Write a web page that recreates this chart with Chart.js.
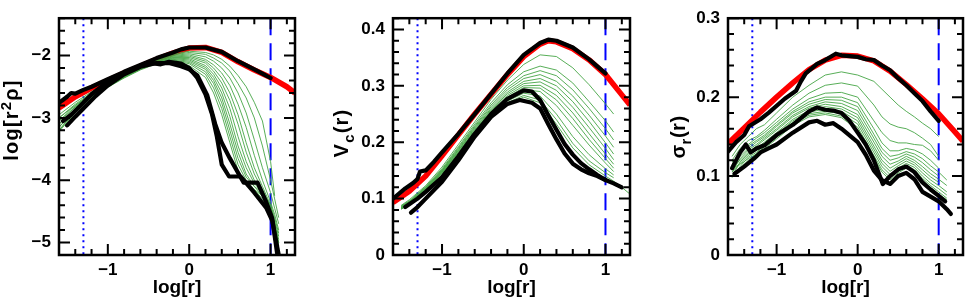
<!DOCTYPE html>
<html><head><meta charset="utf-8">
<script src="https://cdn.jsdelivr.net/npm/chart.js@4.4.0/dist/chart.umd.min.js"></script>
<style>
html,body{margin:0;padding:0;background:#fff;width:965px;height:301px;overflow:hidden}
canvas{position:absolute;top:0}
</style></head><body>
<canvas id="c1" style="left:0px" width="300" height="301"></canvas>
<canvas id="c2" style="left:318px" width="317" height="301"></canvas>
<canvas id="c3" style="left:638px" width="327" height="301"></canvas>
<script>
// ---------- shared axis data ----------
const X_MIN = -1.6, X_MAX = 1.3;
const xTickVals = [-1, 0, 1];
const xTickLabels = ['\u22121', '0', '1'];
const vlineX = [-1.3, 1.0]; // dotted, dashed

// ---------- panel 1 : log[r^2 rho] ----------
const p1YRange = [-5.2, -1.4];
const p1YTicks = [-5, -4, -3, -2];
const p1YLabels = ['\u22125', '\u22124', '\u22123', '\u22122'];
const p1RedX = [-1.6,-1.4,-1.2,-1.0,-0.8,-0.6,-0.4,-0.2,0.0,0.2,0.4,0.6,0.8,1.0,1.2,1.3];
const p1RedY = [-2.84,-2.66,-2.52,-2.40,-2.28,-2.17,-2.06,-1.96,-1.88,-1.87,-1.95,-2.10,-2.23,-2.35,-2.50,-2.60];
const p1TopX = [-1.6,-1.5,-1.45,-1.4,-1.3,-1.2,-1.0,-0.8,-0.6,-0.4,-0.2,-0.1,0.0,0.2,0.4,0.6,0.8,0.9,1.0];
const p1TopY = [-2.76,-2.66,-2.60,-2.61,-2.55,-2.50,-2.38,-2.26,-2.15,-2.04,-1.95,-1.90,-1.87,-1.87,-1.94,-2.09,-2.22,-2.29,-2.36];
const p1AX = [-1.55,-1.45,-1.35,-1.2,-1.0,-0.8,-0.6,-0.45,-0.35,-0.25,-0.1,0.0,0.1,0.2,0.28,0.34,0.4,0.49,0.63,0.8,0.95,1.02,1.1];
const p1AY = [-3.05,-2.95,-2.82,-2.62,-2.42,-2.28,-2.16,-2.12,-2.14,-2.10,-2.13,-2.20,-2.36,-2.62,-2.94,-3.30,-3.75,-3.94,-3.94,-4.20,-4.45,-4.65,-5.20];
const p1BX = [-1.5,-1.4,-1.3,-1.15,-1.0,-0.8,-0.6,-0.4,-0.25,-0.1,0.0,0.1,0.22,0.32,0.4,0.5,0.67,0.84,0.94,1.02,1.08];
const p1BY = [-3.12,-2.98,-2.85,-2.65,-2.48,-2.30,-2.18,-2.12,-2.12,-2.17,-2.22,-2.32,-2.63,-3.10,-3.40,-3.65,-4.04,-4.04,-4.33,-4.61,-5.17];
const p1GX = [-1.6,-1.4,-1.2,-1.0,-0.8,-0.6,-0.4,-0.2,0.0,0.2,0.3,0.4,0.5,0.6,0.7,0.8,0.9,1.0,1.05,1.1];
const p1Greens = [
 [-2.95,-2.75,-2.58,-2.44,-2.30,-2.17,-2.06,-1.98,-1.93,-1.95,-1.99,-2.06,-2.17,-2.32,-2.50,-2.75,-3.05,-3.70,-4.25,null],
 [-3.00,-2.78,-2.60,-2.45,-2.31,-2.18,-2.07,-1.99,-1.95,-1.98,-2.04,-2.12,-2.25,-2.45,-2.68,-3.00,-3.45,-4.00,-4.30,-4.60],
 [-3.05,-2.80,-2.61,-2.46,-2.31,-2.18,-2.07,-2.00,-1.97,-2.02,-2.09,-2.20,-2.36,-2.60,-2.92,-3.35,-3.80,-4.20,-4.45,-4.70],
 [-3.10,-2.82,-2.62,-2.46,-2.32,-2.19,-2.08,-2.01,-1.99,-2.06,-2.15,-2.28,-2.48,-2.78,-3.15,-3.60,-4.00,-4.35,-4.55,-4.80],
 [-3.00,-2.80,-2.62,-2.47,-2.32,-2.19,-2.09,-2.02,-2.01,-2.09,-2.20,-2.36,-2.60,-2.95,-3.40,-3.80,-4.10,-4.40,-4.60,-4.85],
 [-3.15,-2.85,-2.63,-2.47,-2.33,-2.20,-2.10,-2.03,-2.03,-2.12,-2.25,-2.44,-2.72,-3.10,-3.55,-3.90,-4.15,-4.42,-4.65,-4.90],
 [-3.05,-2.83,-2.63,-2.48,-2.33,-2.20,-2.10,-2.04,-2.05,-2.16,-2.30,-2.52,-2.85,-3.30,-3.70,-4.00,-4.20,-4.45,-4.70,-4.95],
 [-3.20,-2.88,-2.65,-2.48,-2.34,-2.21,-2.11,-2.05,-2.07,-2.19,-2.35,-2.60,-2.98,-3.45,-3.80,-4.05,-4.20,-4.45,-4.70,-5.00],
 [-3.10,-2.86,-2.64,-2.49,-2.34,-2.21,-2.11,-2.06,-2.09,-2.22,-2.40,-2.68,-3.10,-3.55,-3.90,-4.10,-4.25,-4.45,-4.75,-5.00],
 [-3.20,-2.90,-2.66,-2.50,-2.35,-2.22,-2.12,-2.07,-2.11,-2.26,-2.45,-2.76,-3.20,-3.65,-3.95,-4.10,-4.20,-4.40,-4.70,-5.05],
 [-3.15,-2.88,-2.65,-2.50,-2.35,-2.22,-2.12,-2.08,-2.13,-2.30,-2.52,-2.85,-3.30,-3.75,-4.00,-4.15,-4.25,-4.45,-4.75,-5.10],
 [-3.22,-2.92,-2.67,-2.51,-2.36,-2.23,-2.13,-2.09,-2.16,-2.35,-2.60,-2.95,-3.40,-3.85,-4.05,-4.15,-4.30,-4.50,-4.80,-5.15]
];

// ---------- panel 2 : Vc(r) ----------
const p2YRange = [0, 0.42];
const p2YTicks = [0, 0.1, 0.2, 0.3, 0.4];
const p2YLabels = ['0', '0.1', '0.2', '0.3', '0.4'];
const p2RedX = [-1.6,-1.4,-1.2,-1.0,-0.8,-0.6,-0.4,-0.2,0.0,0.2,0.3,0.4,0.6,0.8,1.0,1.2,1.3];
const p2RedY = [0.093,0.113,0.140,0.176,0.213,0.250,0.285,0.320,0.352,0.374,0.380,0.378,0.366,0.346,0.320,0.284,0.266];
const p2TopX = [-1.6,-1.45,-1.35,-1.3,-1.27,-1.2,-1.1,-1.0,-0.8,-0.6,-0.4,-0.2,0.0,0.2,0.3,0.4,0.6,0.8,1.0];
const p2TopY = [0.100,0.118,0.128,0.135,0.148,0.150,0.165,0.182,0.215,0.250,0.286,0.322,0.355,0.376,0.382,0.380,0.368,0.347,0.322];
const p2CX = [-1.45,-1.3,-1.2,-1.0,-0.8,-0.6,-0.4,-0.2,0.0,0.1,0.2,0.3,0.4,0.5,0.6,0.7,0.8,0.9,1.0,1.1,1.2];
const p2CY = [0.085,0.100,0.112,0.138,0.175,0.215,0.250,0.277,0.292,0.290,0.275,0.248,0.222,0.197,0.178,0.163,0.152,0.142,0.133,0.127,0.120];
const p2DX = [-1.38,-1.3,-1.2,-1.0,-0.8,-0.6,-0.4,-0.2,-0.05,0.1,0.2,0.3,0.4,0.5,0.6,0.7,0.8,0.9,1.0];
const p2DY = [0.075,0.085,0.100,0.130,0.168,0.210,0.245,0.268,0.275,0.270,0.260,0.232,0.205,0.180,0.162,0.152,0.145,0.140,0.133];
const p2GX = [-1.5,-1.4,-1.2,-1.0,-0.8,-0.6,-0.4,-0.2,0.0,0.2,0.4,0.6,0.8,1.0,1.1,1.2,1.3];
const p2Greens = [
 [0.088,0.098,0.123,0.156,0.196,0.236,0.276,0.310,0.338,0.355,0.352,0.332,0.302,0.268,0.250,null,null],
 [0.087,0.096,0.121,0.153,0.192,0.232,0.270,0.302,0.325,0.335,0.328,0.305,0.272,0.238,0.218,null,null],
 [0.086,0.095,0.120,0.151,0.190,0.229,0.266,0.297,0.318,0.327,0.318,0.293,0.260,0.224,0.204,null,null],
 [0.085,0.094,0.119,0.150,0.188,0.227,0.263,0.293,0.313,0.320,0.308,0.282,0.248,0.211,0.191,null,null],
 [0.085,0.094,0.118,0.149,0.186,0.225,0.260,0.289,0.308,0.313,0.300,0.272,0.237,0.199,0.179,null,null],
 [0.084,0.093,0.117,0.148,0.185,0.223,0.258,0.286,0.304,0.307,0.292,0.262,0.226,0.189,0.169,null,null],
 [0.084,0.093,0.116,0.147,0.183,0.221,0.256,0.283,0.300,0.301,0.283,0.252,0.215,0.179,0.161,null,null],
 [0.083,0.092,0.115,0.146,0.182,0.219,0.254,0.280,0.297,0.296,0.275,0.242,0.205,0.171,0.154,null,null],
 [0.083,0.092,0.114,0.145,0.180,0.217,0.251,0.277,0.293,0.290,0.265,0.230,0.195,0.163,0.148,null,null],
 [0.082,0.091,0.113,0.143,0.178,0.214,0.248,0.273,0.287,0.282,0.250,0.210,0.178,0.153,0.142,null,null],
 [0.082,0.090,0.112,0.142,0.176,0.212,0.246,0.270,0.283,0.275,0.240,0.198,0.167,0.146,0.137,null,null],
 [0.081,0.090,0.111,0.141,0.175,0.210,0.244,0.268,0.280,0.270,0.232,0.190,0.160,0.140,0.131,0.120,0.108]
];

// ---------- panel 3 : sigma_r(r) ----------
const p3YRange = [0, 0.3];
const p3YTicks = [0, 0.1, 0.2, 0.3];
const p3YLabels = ['0', '0.1', '0.2', '0.3'];
const p3RedX = [-1.6,-1.4,-1.2,-1.0,-0.8,-0.6,-0.4,-0.2,0.0,0.2,0.4,0.6,0.8,1.0,1.2,1.3];
const p3RedY = [0.141,0.161,0.181,0.200,0.218,0.235,0.247,0.253,0.252,0.246,0.233,0.216,0.198,0.179,0.156,0.144];
const p3TopX = [-1.6,-1.5,-1.4,-1.34,-1.2,-1.1,-0.9,-0.76,-0.7,-0.64,-0.5,-0.4,-0.27,-0.2,-0.1,0.0,0.1,0.2,0.3,0.4,0.5,0.6,0.7,0.8,0.9,1.0];
const p3TopY = [0.131,0.143,0.152,0.163,0.172,0.180,0.198,0.208,0.220,0.230,0.242,0.247,0.255,0.253,0.252,0.251,0.248,0.247,0.240,0.234,0.224,0.215,0.205,0.195,0.182,0.170];
const p3EX = [-1.55,-1.45,-1.38,-1.32,-1.25,-1.15,-1.0,-0.8,-0.6,-0.5,-0.4,-0.3,-0.2,-0.1,0.0,0.1,0.2,0.31,0.4,0.51,0.6,0.7,0.8,0.9,1.0,1.08];
const p3EY = [0.110,0.130,0.140,0.130,0.135,0.139,0.152,0.165,0.182,0.187,0.184,0.183,0.180,0.170,0.155,0.140,0.120,0.090,0.100,0.109,0.112,0.105,0.092,0.083,0.075,0.068];
const p3FX = [-1.52,-1.4,-1.28,-1.2,-1.1,-1.0,-0.8,-0.6,-0.5,-0.4,-0.3,-0.2,0.0,0.1,0.2,0.3,0.4,0.5,0.6,0.7,0.8,0.9,1.0,1.1,1.15];
const p3FY = [0.103,0.112,0.122,0.130,0.135,0.140,0.155,0.168,0.170,0.165,0.167,0.160,0.143,0.127,0.107,0.095,0.090,0.100,0.104,0.096,0.080,0.074,0.068,0.058,0.052];
const p3GX = [-1.55,-1.45,-1.35,-1.25,-1.15,-1.0,-0.8,-0.6,-0.4,-0.2,0.0,0.2,0.3,0.4,0.5,0.6,0.7,0.8,0.9,1.0,1.1];
const p3Greens = [
 [0.125,0.140,0.150,0.160,0.165,0.180,0.200,0.215,0.228,0.232,0.228,0.220,0.210,0.200,0.190,0.182,0.175,0.167,0.160,0.150,null],
 [0.120,0.135,0.145,0.150,0.158,0.172,0.190,0.205,0.215,0.218,0.214,0.190,0.175,0.166,0.162,0.160,0.155,0.148,0.140,0.125,null],
 [0.115,0.130,0.140,0.148,0.155,0.168,0.185,0.198,0.205,0.206,0.200,0.170,0.155,0.145,0.142,0.142,0.140,0.139,0.132,0.120,null],
 [0.110,0.128,0.138,0.145,0.152,0.165,0.182,0.194,0.200,0.200,0.193,0.160,0.142,0.132,0.132,0.135,0.133,0.128,0.120,0.110,null],
 [0.118,0.125,0.135,0.143,0.150,0.163,0.180,0.191,0.197,0.196,0.188,0.153,0.135,0.125,0.127,0.131,0.128,0.122,0.113,0.105,0.095],
 [0.105,0.122,0.133,0.140,0.148,0.160,0.177,0.188,0.194,0.192,0.183,0.148,0.130,0.120,0.123,0.128,0.124,0.117,0.108,0.100,null],
 [0.112,0.120,0.130,0.138,0.146,0.158,0.175,0.186,0.191,0.188,0.178,0.143,0.125,0.115,0.119,0.125,0.120,0.112,0.103,0.096,0.088],
 [0.100,0.118,0.128,0.135,0.143,0.155,0.172,0.183,0.188,0.185,0.174,0.138,0.120,0.110,0.116,0.122,0.117,0.108,0.099,0.092,null],
 [0.108,0.116,0.126,0.133,0.141,0.153,0.170,0.181,0.185,0.182,0.170,0.134,0.116,0.106,0.113,0.119,0.114,0.104,0.095,0.088,0.080],
 [0.098,0.112,0.124,0.130,0.139,0.151,0.168,0.179,0.182,0.179,0.166,0.130,0.112,0.102,0.110,0.116,0.111,0.100,0.091,0.084,0.076],
 [0.105,0.115,0.122,0.128,0.137,0.149,0.166,0.177,0.180,0.176,0.162,0.126,0.108,0.098,0.107,0.113,0.108,0.097,0.088,0.080,0.072],
 [0.100,0.110,0.120,0.127,0.135,0.147,0.164,0.175,0.178,0.174,0.159,0.123,0.105,0.095,0.104,0.110,0.105,0.094,0.085,0.077,0.070]
];

// ---------- helpers ----------
const FONT = 'Liberation Sans, Arial, sans-serif';
Chart.defaults.font.family = FONT;
Chart.defaults.color = '#000';

function pts(xs, ys) {
  const out = [];
  for (let i = 0; i < xs.length; i++) if (ys[i] !== null) out.push({x: xs[i], y: ys[i]});
  return out;
}

const framePlugin = {
  id: 'frame',
  afterDatasetsDraw(chart, args, o) {
    const {ctx, chartArea: a, scales: {x, y}} = chart;
    ctx.save();
    ctx.strokeStyle = '#000';
    ctx.lineWidth = 2;
    ctx.beginPath();
    const tx = (v, len) => { const p = x.getPixelForValue(v); ctx.moveTo(p, a.bottom); ctx.lineTo(p, a.bottom - len); ctx.moveTo(p, a.top); ctx.lineTo(p, a.top + len); };
    const ty = (v, len) => { const p = y.getPixelForValue(v); ctx.moveTo(a.left, p); ctx.lineTo(a.left + len, p); ctx.moveTo(a.right, p); ctx.lineTo(a.right - len, p); };
    for (let k = Math.ceil(X_MIN / o.xMinor - 1e-6); k * o.xMinor <= X_MAX + 1e-9; k++) tx(k * o.xMinor, 6);
    xTickVals.forEach(v => tx(v, 11));
    for (let k = Math.ceil(o.yMin / o.yMinor - 1e-6); k * o.yMinor <= o.yMax + 1e-9; k++) ty(k * o.yMinor, 6);
    o.yMajor.forEach(v => ty(v, 11));
    ctx.stroke();
    ctx.lineWidth = 2.5;
    ctx.strokeRect(a.left, a.top, a.right - a.left, a.bottom - a.top);
    ctx.restore();
  }
};

const yTitlePlugin = {
  id: 'ytitle',
  afterDraw(chart, args, o) {
    const {ctx} = chart;
    const size = 20, small = 15;
    ctx.save();
    ctx.fillStyle = '#000';
    ctx.textBaseline = 'alphabetic';
    if ('letterSpacing' in ctx) ctx.letterSpacing = o.spacing + 'px';
    let total = 0;
    o.parts.forEach(p => { ctx.font = 'bold ' + (p.s ? small : size) + 'px ' + FONT; p.w = ctx.measureText(p.t).width; total += p.w; });
    ctx.translate(o.cx, o.cy);
    ctx.rotate(-Math.PI / 2);
    let xx = -total / 2;
    const base = size * 0.36;
    o.parts.forEach(p => {
      ctx.font = 'bold ' + (p.s ? small : size) + 'px ' + FONT;
      const off = p.s === 1 ? -size * 0.38 : (p.s === -1 ? size * 0.28 : 0);
      ctx.fillText(p.t, xx, base + off);
      xx += p.w;
    });
    ctx.restore();
  }
};

function makePanel(id, P) {
  const ds = [];
  // lower "order" is drawn on top
  ds.push({data: [{x: vlineX[0], y: P.yRange[1]}, {x: vlineX[0], y: P.yRange[0]}], borderColor: '#0000ff', borderWidth: 2, borderDash: [2, 4], order: 4});
  ds.push({data: [{x: vlineX[1], y: P.yRange[1]}, {x: vlineX[1], y: P.yRange[0]}], borderColor: '#0000ff', borderWidth: 2, borderDash: [17, 8], order: 4});
  ds.push({data: pts(P.redX, P.redY), borderColor: '#ff0000', borderWidth: 5.5, borderJoinStyle: 'round', order: 3});
  P.greens.forEach(g => ds.push({data: pts(P.gx, g), borderColor: 'rgba(70,165,70,0.9)', borderWidth: 1, order: 2}));
  P.blacks.forEach(b => ds.push({data: pts(b[0], b[1]), borderColor: '#000', borderWidth: 4.2, borderJoinStyle: 'round', borderCapStyle: 'round', order: 1}));
  new Chart(document.getElementById(id), {
    type: 'scatter',
    data: {datasets: ds.map(d => Object.assign({showLine: true, pointRadius: 0, pointHoverRadius: 0, fill: false, tension: 0, clip: 0}, d))},
    options: {
      responsive: false, animation: false, events: [],
      layout: {padding: {top: 5, right: P.padRight, left: 0, bottom: 0}},
      plugins: {
        legend: {display: false}, tooltip: {enabled: false},
        frame: {xMinor: 0.2, yMinor: P.yMinor, yMin: P.yRange[0], yMax: P.yRange[1], yMajor: P.yTicks},
        ytitle: {parts: P.title, cx: P.titleX, cy: P.titleY, spacing: P.titleSpacing}
      },
      scales: {
        x: {
          type: 'linear', min: X_MIN, max: X_MAX,
          grid: {display: false, drawTicks: false}, border: {display: false},
          afterBuildTicks: s => { s.ticks = xTickVals.map(v => ({value: v})); },
          afterFit: s => { s.height = 46; },
          ticks: {padding: 5, color: '#000', font: {size: 17, weight: 'bold'}, maxRotation: 0,
                  callback: v => xTickLabels[xTickVals.indexOf(v)]},
          title: {display: true, text: 'log[r]', color: '#000', font: {size: 19, weight: 'bold'}, padding: {top: 0, bottom: 2}}
        },
        y: {
          type: 'linear', min: P.yRange[0], max: P.yRange[1],
          grid: {display: false, drawTicks: false}, border: {display: false},
          afterBuildTicks: s => { s.ticks = P.yTicks.map(v => ({value: v})); },
          afterFit: s => { s.width = P.yWidth; },
          ticks: {padding: 8, color: '#000', font: {size: 17, weight: 'bold'},
                  callback: v => P.yLabels[P.yTicks.indexOf(v)]}
        }
      }
    },
    plugins: [framePlugin, yTitlePlugin]
  });
}

makePanel('c1', {
  yRange: p1YRange, yTicks: p1YTicks, yLabels: p1YLabels, yMinor: 0.2, yWidth: 59, padRight: 5,
  redX: p1RedX, redY: p1RedY, gx: p1GX, greens: p1Greens,
  blacks: [[p1TopX, p1TopY], [p1AX, p1AY], [p1BX, p1BY]],
  title: [{t: 'log[r'}, {t: '2', s: 1}, {t: '\u03c1]'}], titleX: 11, titleY: 120, titleSpacing: 1.2
});
makePanel('c2', {
  yRange: p2YRange, yTicks: p2YTicks, yLabels: p2YLabels, yMinor: 0.02, yWidth: 75, padRight: 5,
  redX: p2RedX, redY: p2RedY, gx: p2GX, greens: p2Greens,
  blacks: [[p2TopX, p2TopY], [p2CX, p2CY], [p2DX, p2DY]],
  title: [{t: 'V'}, {t: 'c', s: -1}, {t: '(r)'}], titleX: 23, titleY: 133, titleSpacing: 1.2
});
makePanel('c3', {
  yRange: p3YRange, yTicks: p3YTicks, yLabels: p3YLabels, yMinor: 0.02, yWidth: 90, padRight: 2,
  redX: p3RedX, redY: p3RedY, gx: p3GX, greens: p3Greens,
  blacks: [[p3TopX, p3TopY], [p3EX, p3EY], [p3FX, p3FY]],
  title: [{t: '\u03c3'}, {t: 'r', s: -1}, {t: '(r)'}], titleX: 40, titleY: 137, titleSpacing: 0.5
});
</script>
</body></html>
